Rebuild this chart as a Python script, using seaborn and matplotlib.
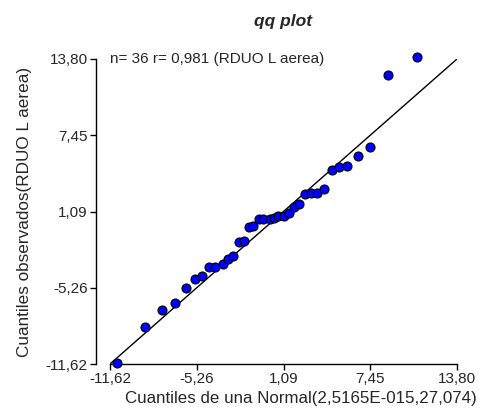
import pandas as pd
import matplotlib
matplotlib.use('Agg')
import matplotlib.pyplot as plt
import seaborn as sns

# cuantiles teoricos (Normal) y observados
teoricos = [-11.13, -9.06, -7.83, -6.84, -6.05, -5.41, -4.88, -4.37, -3.91,
            -3.36, -2.95, -2.63, -2.19, -1.78, -1.44, -1.12, -0.68, -0.39,
            0.10, 0.37, 0.71, 1.15, 1.49, 1.88, 2.25, 2.67, 3.11, 3.55,
            4.08, 4.64, 5.16, 5.76, 6.53, 7.43, 8.72, 10.87]
observados = [-11.54, -8.57, -7.10, -6.52, -5.27, -4.54, -4.32, -3.57, -3.57,
              -3.29, -2.83, -2.60, -1.49, -1.35, -0.24, -0.10, 0.48, 0.48,
              0.48, 0.54, 0.73, 0.73, 0.98, 1.46, 1.71, 2.56, 2.67, 2.67,
              2.96, 4.56, 4.76, 4.92, 5.75, 6.50, 12.50, 14.00]

ticks = [-11.62, -5.26, 1.09, 7.45, 13.80]
tick_labels = ['-11,62', '-5,26', '1,09', '7,45', '13,80']
recta = [-11.62, 13.80]

df = pd.DataFrame({'x': teoricos, 'y': observados})

sns.set_style('white')
plt.rcParams['font.family'] = ['Liberation Sans', 'DejaVu Sans']

fig = plt.figure(figsize=(4.8, 4.2), dpi=100)
ax = fig.add_axes([110 / 480, 1 - 364 / 420, 347 / 480, 305 / 420])

sns.lineplot(x=recta, y=recta, ax=ax, color='black', linewidth=1.0)
sns.scatterplot(data=df, x='x', y='y', ax=ax, color='#0000ff', edgecolor='black',
                linewidth=0.8, s=42, zorder=3, clip_on=False)

ax.set_xlim(ticks[0], ticks[-1])
ax.set_ylim(ticks[0], ticks[-1])
ax.set_xticks(ticks)
ax.set_xticklabels(tick_labels)
ax.set_yticks(ticks)
ax.set_yticklabels(tick_labels)

ax.spines['top'].set_visible(False)
ax.spines['right'].set_visible(False)
ax.spines['left'].set_position(('outward', 10))
for s in ['left', 'bottom']:
    ax.spines[s].set_color('black')
    ax.spines[s].set_linewidth(1.0)
ax.tick_params(axis='both', direction='out', length=4.5, width=1, color='black',
               labelsize=11, pad=1.5, left=True, bottom=True)

ax.set_xlabel('Cuantiles de una Normal(2,5165E-015,27,074)', fontsize=12.2, labelpad=4)
ax.xaxis.set_label_coords(0.55, -0.09)
ax.set_ylabel('Cuantiles observados(RDUO L aerea)', fontsize=12.3, labelpad=10)
ax.set_title('qq plot', fontsize=12.5, fontweight='bold', fontstyle='italic', pad=24)

ax.text(0.0, 1.0, 'n= 36 r= 0,981 (RDUO L aerea)', transform=ax.transAxes,
        fontsize=11, ha='left', va='center')

fig.savefig('out.png', dpi=100)
